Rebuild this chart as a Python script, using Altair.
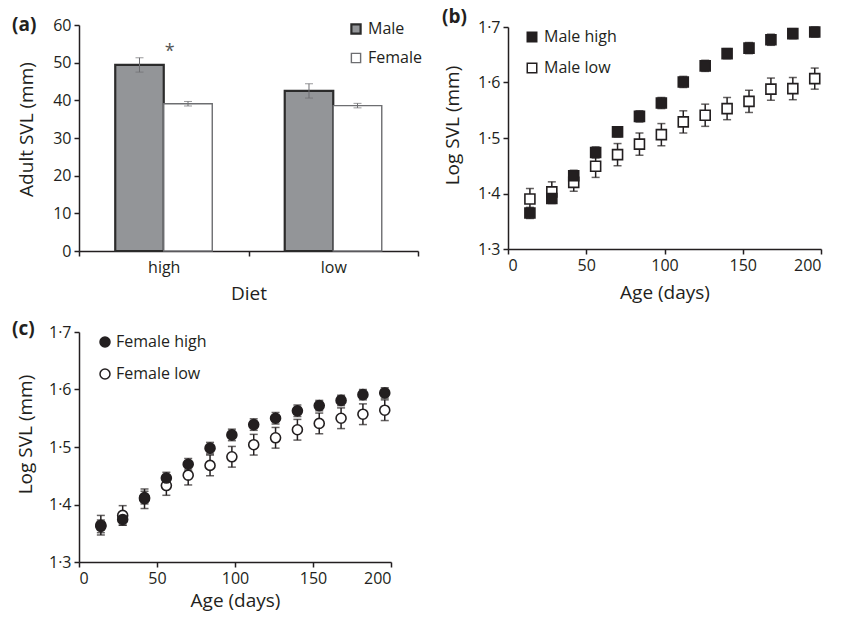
import altair as alt
import pandas as pd

FONT = "Open Sans"
INK = "#231f20"

# ---------------- Panel (a): adult size by diet ----------------
diet_groups = ["high", "high", "low", "low"]
sex_groups = ["Male", "Female", "Male", "Female"]
adult_svl = [49.4, 39.1, 42.5, 38.6]
adult_svl_se = [1.9, 0.6, 1.9, 0.6]
signif_diet = ["high"]
signif_label = ["*"]
signif_y = [52.7]

# ---------------- Panels (b) and (c): growth ----------------
age_days = [14, 28, 42, 56, 70, 84, 98, 112, 126, 140, 154, 168, 182, 196]
male_high = [1.365, 1.391, 1.432, 1.474, 1.511, 1.539, 1.563, 1.601, 1.630, 1.652, 1.662, 1.677, 1.688, 1.691]
male_high_se = [0.010, 0.009, 0.010, 0.010, 0.009, 0.010, 0.010, 0.010, 0.010, 0.009, 0.010, 0.010, 0.009, 0.009]
male_low = [1.390, 1.403, 1.420, 1.449, 1.470, 1.489, 1.506, 1.529, 1.541, 1.553, 1.566, 1.588, 1.589, 1.607]
male_low_se = [0.019, 0.018, 0.016, 0.020, 0.020, 0.020, 0.020, 0.020, 0.020, 0.020, 0.020, 0.020, 0.020, 0.019]
female_high = [1.362, 1.374, 1.412, 1.446, 1.470, 1.498, 1.521, 1.539, 1.550, 1.563, 1.572, 1.581, 1.591, 1.594]
female_high_se = [0.011, 0.010, 0.011, 0.010, 0.010, 0.010, 0.010, 0.010, 0.010, 0.010, 0.009, 0.009, 0.009, 0.009]
female_low = [1.364, 1.381, 1.410, 1.433, 1.451, 1.468, 1.483, 1.504, 1.516, 1.530, 1.541, 1.550, 1.557, 1.564]
female_low_se = [0.017, 0.017, 0.017, 0.017, 0.017, 0.018, 0.018, 0.018, 0.018, 0.018, 0.018, 0.018, 0.018, 0.018]

log_ticks = [1.3, 1.4, 1.5, 1.6, 1.7]
age_ticks = [0, 50, 100, 150, 200]
svl_ticks = [0, 10, 20, 30, 40, 50, 60]

LABEL_SIZE = 16
TITLE_SIZE = 19


def panel_title(letter, dx, dy):
    return alt.TitleParams(letter, anchor="start", frame="group", orient="top",
                           font=FONT, fontSize=19, fontWeight="bold", color=INK,
                           dx=dx, dy=dy, baseline="middle", offset=0)


# ---------- (a) ----------
dfa = pd.DataFrame({"Diet": diet_groups, "Sex": sex_groups, "SVL": adult_svl, "SE": adult_svl_se})
dfa["lo"] = dfa["SVL"] - dfa["SE"]
dfa["hi"] = dfa["SVL"] + dfa["SE"]
dfs = pd.DataFrame({"Diet": signif_diet, "label": signif_label, "y": signif_y})

x_a = alt.X("Diet:N", sort=["high", "low"],
            scale=alt.Scale(paddingInner=0, paddingOuter=0),
            axis=alt.Axis(title="Diet", labelAngle=0, tickBand="extent",
                          titleY=42, titleBaseline="middle"))
xo_a = alt.XOffset("Sex:N", sort=["Male", "Female"],
                   scale=alt.Scale(paddingInner=0, paddingOuter=0.747))
y_axis_a = alt.Axis(title="Adult SVL (mm)", values=svl_ticks, titleX=-53, titleY=104,
                    titleBaseline="middle", titleAngle=-90)
y_scale_a = alt.Scale(domain=[0, 60], nice=False)

leg_a = alt.Legend(orient="none", legendX=269, legendY=-4, title=None, symbolType="square",
                   symbolSize=85, symbolStrokeWidth=1.6, labelFontSize=16, labelFont=FONT,
                   labelColor=INK, rowPadding=11, labelOffset=4, padding=0)

bars = alt.Chart(dfa).mark_bar().encode(
    x=x_a, xOffset=xo_a,
    y=alt.Y("SVL:Q", scale=y_scale_a, axis=y_axis_a),
    fill=alt.Fill("Sex:N", sort=["Male", "Female"],
                  scale=alt.Scale(domain=["Male", "Female"], range=["#939598", "#ffffff"]), legend=leg_a),
    stroke=alt.Stroke("Sex:N", sort=["Male", "Female"],
                      scale=alt.Scale(domain=["Male", "Female"], range=["#2b2b2b", "#6d6e71"]), legend=leg_a),
    strokeWidth=alt.StrokeWidth("Sex:N", scale=alt.Scale(domain=["Male", "Female"], range=[2.2, 1.4]),
                                legend=None),
)
err_a = alt.Chart(dfa).mark_rule(color="#6d6e71", strokeWidth=1).encode(
    x=x_a, xOffset=xo_a,
    y=alt.Y("lo:Q", scale=y_scale_a, axis=y_axis_a), y2="hi:Q")
cap_lo_a = alt.Chart(dfa).mark_tick(color="#6d6e71", thickness=1, size=8, orient="horizontal").encode(
    x=x_a, xOffset=xo_a, y=alt.Y("lo:Q", scale=y_scale_a, axis=y_axis_a))
cap_hi_a = alt.Chart(dfa).mark_tick(color="#6d6e71", thickness=1, size=8, orient="horizontal").encode(
    x=x_a, xOffset=xo_a, y=alt.Y("hi:Q", scale=y_scale_a, axis=y_axis_a))
star = alt.Chart(dfs).mark_text(font=FONT, fontSize=18, color="#555555", dx=6, baseline="middle").encode(
    x=x_a, y=alt.Y("y:Q", scale=y_scale_a, axis=y_axis_a), text="label:N")

panel_a = alt.layer(bars, err_a, cap_lo_a, cap_hi_a, star).properties(
    width=339, height=226, title=panel_title("(a)", -67, 27))


# ---------- (b), (c) ----------
def growth_df(names, vals, ses):
    rows = []
    for name, v, s in zip(names, vals, ses):
        for a, vv, ss in zip(age_days, v, s):
            rows.append({"Age": a, "Series": name, "Value": vv, "lo": vv - ss, "hi": vv + ss})
    return pd.DataFrame(rows)


def growth_panel(df, order, shape, fill_range, letter, w, h, title_dx, title_dy, lx, ly, row_pad,
                 title_y, title_x, sym_size, lab_off):
    xs = alt.Scale(domain=[0, 200], nice=False)
    xax = alt.Axis(title="Age (days)", values=age_ticks, titleY=title_y, titleBaseline="middle")
    ys = alt.Scale(domain=[1.3, 1.7], nice=False, zero=False)
    yax = alt.Axis(title="Log SVL (mm)", values=log_ticks,
                   labelExpr="replace(format(datum.value, '.1f'), '.', '·')",
                   titleX=title_x, titleY=h / 2 - 13, titleBaseline="middle", titleAngle=-90)
    leg = alt.Legend(orient="none", legendX=lx, legendY=ly, title=None, symbolType=shape,
                     symbolSize=sym_size, symbolStrokeWidth=1.5, labelFontSize=16, labelFont=FONT,
                     labelColor=INK, rowPadding=row_pad, labelOffset=lab_off, padding=0)
    base = alt.Chart(df)
    rule = base.mark_rule(color=INK, strokeWidth=1.5).encode(
        x=alt.X("Age:Q", scale=xs, axis=xax), y=alt.Y("lo:Q", scale=ys, axis=yax), y2="hi:Q")
    cap_lo = base.mark_tick(color=INK, thickness=1.5, size=8, orient="horizontal").encode(
        x=alt.X("Age:Q", scale=xs, axis=xax), y=alt.Y("lo:Q", scale=ys, axis=yax))
    cap_hi = base.mark_tick(color=INK, thickness=1.5, size=8, orient="horizontal").encode(
        x=alt.X("Age:Q", scale=xs, axis=xax), y=alt.Y("hi:Q", scale=ys, axis=yax))
    pts = base.mark_point(shape=shape, size=100, strokeWidth=1.6, opacity=1, filled=True).encode(
        x=alt.X("Age:Q", scale=xs, axis=xax), y=alt.Y("Value:Q", scale=ys, axis=yax),
        fill=alt.Fill("Series:N", sort=order, scale=alt.Scale(domain=order, range=fill_range), legend=leg),
        stroke=alt.Stroke("Series:N", sort=order, scale=alt.Scale(domain=order, range=[INK, INK]), legend=leg),
    )
    return alt.layer(rule, cap_lo, cap_hi, pts).properties(
        width=w, height=h, title=panel_title(letter, title_dx, title_dy))


# draw open (low) series first so filled (high) markers sit on top
dfb = growth_df(["Male low", "Male high"], [male_low, male_high], [male_low_se, male_high_se])
dfc = growth_df(["Female low", "Female high"], [female_low, female_high], [female_low_se, female_high_se])

panel_b = growth_panel(dfb, ["Male high", "Male low"], "square", [INK, "#ffffff"], "(b)",
                       313, 222, -66, 17, 16, 2, 15, 43, -56, 90, 4)
panel_c = growth_panel(dfc, ["Female high", "Female low"], "circle", [INK, "#ffffff"], "(c)",
                       312, 230, -67, 24, 18, 2, 16, 38, -54, 100, 3)

chart = alt.concat(panel_a, panel_b, panel_c, columns=2, bounds="flush",
                   spacing={"row": 81, "column": 90},
                   center={"row": True, "column": False}).resolve_scale(
    fill="independent", stroke="independent", strokeWidth="independent"
).resolve_legend(fill="independent", stroke="independent").properties(
    padding={"left": 12, "top": 8, "right": 5, "bottom": 5}
).configure_view(stroke=None).configure_axis(
    grid=False, domainColor=INK, domainWidth=1.5, tickColor=INK, tickWidth=1.5, tickSize=5,
    labelFont=FONT, labelFontSize=LABEL_SIZE, labelColor=INK, labelPadding=3,
    titleFont=FONT, titleFontSize=TITLE_SIZE, titleFontWeight="normal", titleColor=INK,
).configure_text(font=FONT)

chart.save("out.html", embed_options={"renderer": "svg", "actions": False})
